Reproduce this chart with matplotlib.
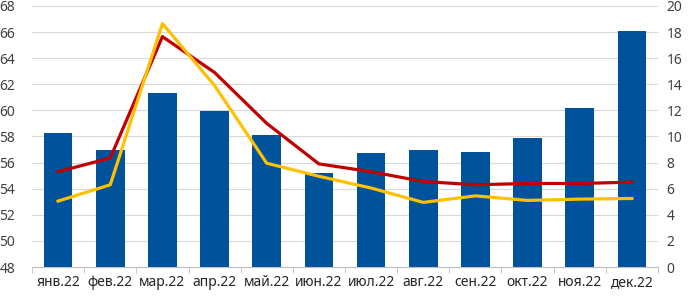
import numpy as np
import matplotlib.pyplot as plt

months = ["янв.22", "фев.22", "мар.22", "апр.22", "май.22", "июн.22",
          "июл.22", "авг.22", "сен.22", "окт.22", "ноя.22", "дек.22"]
bar_vals = [58.25, 57.0, 61.3, 59.95, 58.1, 55.2, 56.75, 56.95, 56.8, 57.9, 60.15, 66.1]
red_vals = [7.3, 8.35, 17.65, 14.9, 11.0, 7.9, 7.3, 6.55, 6.3, 6.4, 6.4, 6.5]
yellow_vals = [5.05, 6.3, 18.65, 13.9, 7.95, 6.95, 6.05, 4.95, 5.45, 5.1, 5.2, 5.25]

plt.rcParams["font.family"] = ["Noto Sans", "DejaVu Sans"]

fig = plt.figure(figsize=(6.9, 2.97), dpi=100)
ax = fig.add_axes([0.0464, 0.101, 0.9072, 0.879])
x = np.arange(len(months))

ax.bar(x, bar_vals, width=0.55, bottom=0, color="#00539B", zorder=2)
ax.set_ylim(48, 68)
ax.set_yticks(np.arange(48, 69, 2))
ax.set_xlim(-0.5, len(months) - 0.5)
ax.grid(axis="y", color="#d9d9d9", linewidth=0.8, zorder=0)
ax.set_axisbelow(True)
for s in ["top", "right", "left"]:
    ax.spines[s].set_visible(False)
ax.spines["bottom"].set_color("#bfbfbf")
ax.set_xticks(x)
ax.set_xticklabels(months)
ax.set_xticks(np.arange(-0.5, len(months), 1), minor=True)
ax.tick_params(axis="x", which="major", length=0, pad=6, labelsize=10, labelcolor="#262626")
ax.tick_params(axis="x", which="minor", length=4, color="#bfbfbf")
ax.tick_params(axis="y", length=0, labelsize=10, labelcolor="#404040", pad=12)

ax2 = ax.twinx()
ax2.plot(x, red_vals, color="#C00000", linewidth=2.3, zorder=3)
ax2.plot(x, yellow_vals, color="#FFC000", linewidth=2.3, zorder=3)
ax2.set_ylim(0, 20)
ax2.set_yticks(np.arange(0, 21, 2))
for s in ax2.spines.values():
    s.set_visible(False)
ax2.tick_params(axis="y", length=0, labelsize=10, labelcolor="#404040", pad=6)

fig.savefig("out.png", dpi=100)
